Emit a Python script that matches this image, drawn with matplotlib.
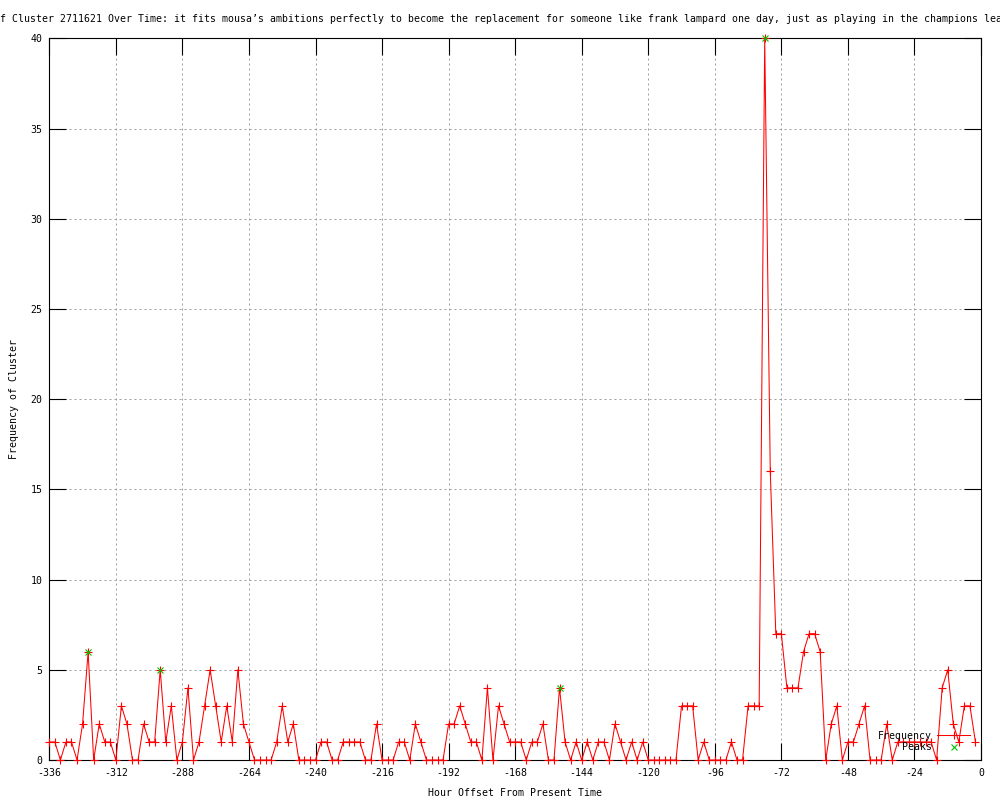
import numpy as np
import matplotlib
matplotlib.use("Agg")
import matplotlib.pyplot as plt

# hour offsets (one sample every 2 hours, -336 .. -2)
hours = np.arange(-336, 0, 2)
frequency = [
    1, 1, 0, 1, 1, 0, 2, 6, 0, 2, 1, 1, 0, 3, 2, 0, 0, 2, 1, 1,
    5, 1, 3, 0, 1, 4, 0, 1, 3, 5, 3, 1, 3, 1, 5, 2, 1, 0, 0, 0,
    0, 1, 3, 1, 2, 0, 0, 0, 0, 1, 1, 0, 0, 1, 1, 1, 1, 0, 0, 2,
    0, 0, 0, 1, 1, 0, 2, 1, 0, 0, 0, 0, 2, 2, 3, 2, 1, 1, 0, 4,
    0, 3, 2, 1, 1, 1, 0, 1, 1, 2, 0, 0, 4, 1, 0, 1, 0, 1, 0, 1,
    1, 0, 2, 1, 0, 1, 0, 1, 0, 0, 0, 0, 0, 0, 3, 3, 3, 0, 1, 0,
    0, 0, 0, 1, 0, 0, 3, 3, 3, 40, 16, 7, 7, 4, 4, 4, 6, 7, 7, 6,
    0, 2, 3, 0, 1, 1, 2, 3, 0, 0, 0, 2, 0, 1, 1, 1, 1, 1, 1, 1,
    0, 4, 5, 2, 1, 3, 3, 1,
]
peak_hours = [-322, -296, -152, -78]
peak_values = [6, 5, 4, 40]

x_ticks = list(range(-336, 1, 24))
y_ticks = list(range(0, 41, 5))

title_text = ("f Cluster 2711621 Over Time: it fits mousa\u2019s ambitions perfectly to become "
              "the replacement for someone like frank lampard one day, just as playing in the champions lea")

MONO = "DejaVu Sans Mono"
FS = 7.1
plt.rcParams['font.family'] = MONO

fig = plt.figure(figsize=(10, 8), dpi=100)
ax = fig.add_axes([0.0493, 0.05, 0.9317, 0.9021])

ax.plot(hours, frequency, color='#ff0000', lw=0.75, marker='+', ms=5.6, mew=0.8,
        clip_on=False, zorder=3, label='Frequency')
ax.plot(peak_hours, peak_values, linestyle='none', color='#00c000', marker='x', ms=5.0, mew=0.8,
        clip_on=False, zorder=4, label='    Peaks')

ax.set_xlim(-336, 0)
ax.set_ylim(0, 40)
ax.set_xticks(x_ticks)
ax.set_yticks(y_ticks)
ax.set_xticklabels([str(t) for t in x_ticks])
ax.set_yticklabels([str(t) for t in y_ticks])

ax.tick_params(axis='both', direction='in', length=12, width=0.8, color='black',
               top=True, right=True, labelsize=FS)
ax.tick_params(axis='x', pad=6)
ax.tick_params(axis='y', pad=5)

ax.set_axisbelow(True)
ax.grid(True, color='#a0a0a0', lw=0.72, linestyle=(0, (2, 3)))
for s in ax.spines.values():
    s.set_linewidth(0.8)
    s.set_color('black')

ax.set_xlabel("Hour Offset From Present Time", fontsize=FS, va='center')
ax.xaxis.set_label_coords(0.5, -(793 - 760) / 722)
ax.set_ylabel("Frequency of Cluster", fontsize=FS, va='center')
ax.yaxis.set_label_coords((14 - 49.3) / 931.7, 0.5)

fig.text(0.0, 1 - 19 / 800, title_text, ha='left', va='center', fontsize=FS)

leg = ax.legend(loc='lower right', bbox_to_anchor=((970 - 49.3) / 931.7, (760 - 752) / 722),
                frameon=False, markerfirst=False, fontsize=FS, handlelength=3.3,
                handletextpad=0.6, borderpad=0, borderaxespad=0, labelspacing=0.15)

fig.savefig("out.png", dpi=100)
